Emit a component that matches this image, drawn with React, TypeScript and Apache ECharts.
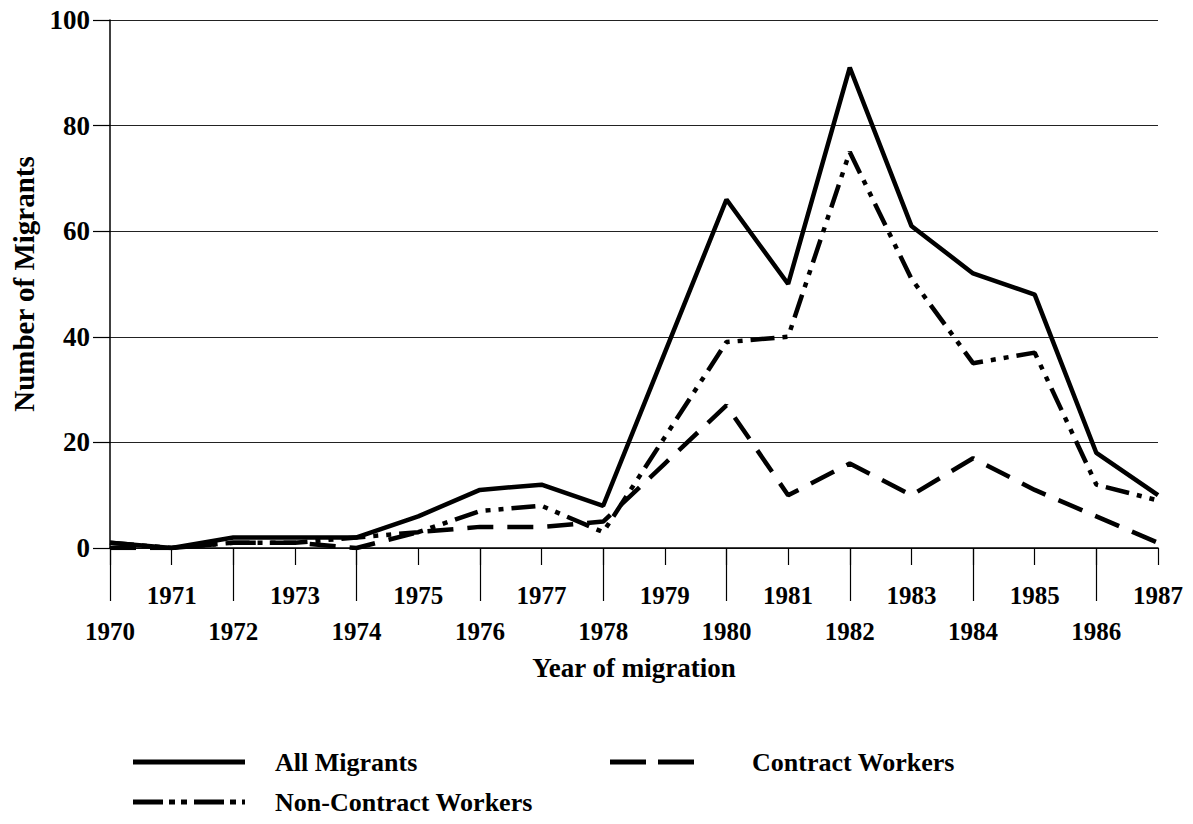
import React, { useEffect, useRef } from "react";
import * as echarts from "echarts";

const years = ["1970","1971","1972","1973","1974","1975","1976","1977","1978","1979","1980","1981","1982","1983","1984","1985","1986","1987"];
const allMigrants = [1, 0, 2, 2, 2, 6, 11, 12, 8, 37, 66, 50, 91, 61, 52, 48, 18, 10];
const contractWorkers = [0, 0, 1, 1, 0, 3, 4, 4, 5, 16, 27, 10, 16, 10, 17, 11, 6, 1];
const nonContractWorkers = [1, 0, 1, 1, 2, 3, 7, 8, 3, 21, 39, 40, 75, 51, 35, 37, 12, 9];

const FONT = "'Liberation Serif', 'Times New Roman', serif";
const textBase = { fontFamily: FONT, fontWeight: "bold" as const, color: "#000" };

export default function App() {
  const ref = useRef<HTMLDivElement>(null);
  useEffect(() => {
    if (!ref.current) return;
    const chart = echarts.init(ref.current, null, { renderer: "svg" });
    chart.setOption({
      animation: false,
      backgroundColor: "#fff",
      grid: { left: 110, right: 35, top: 20, bottom: 276, containLabel: false },
      xAxis: [
        {
          type: "category",
          data: years,
          boundaryGap: false,
          position: "bottom",
          axisLine: { show: true, lineStyle: { color: "#000", width: 1.5 } },
          axisTick: { show: true, interval: 0, length: 17, lineStyle: { color: "#000", width: 1.2 } },
          axisLabel: { ...textBase, fontSize: 25, interval: (i: number) => i % 2 === 1, margin: 35 },
          splitLine: { show: false },
        },
        {
          type: "category",
          data: years,
          boundaryGap: false,
          position: "bottom",
          axisLine: { show: false },
          axisTick: { show: true, interval: (i: number) => i % 2 === 0, length: 53, lineStyle: { color: "#000", width: 1.2 } },
          axisLabel: { ...textBase, fontSize: 25, interval: (i: number) => i % 2 === 0, margin: 71 },
          splitLine: { show: false },
          name: "Year of migration",
          nameLocation: "middle",
          nameGap: 106,
          nameTextStyle: { ...textBase, fontSize: 27 },
        },
      ],
      yAxis: {
        type: "value",
        min: 0,
        max: 100,
        interval: 20,
        axisLine: { show: true, lineStyle: { color: "#000", width: 1.5 } },
        axisTick: { show: true, length: 17, lineStyle: { color: "#000", width: 1.2 } },
        axisLabel: { ...textBase, fontSize: 27, margin: 20 },
        splitLine: { show: true, lineStyle: { color: "#222", width: 1.2 } },
        name: "Number of Migrants",
        nameLocation: "middle",
        nameGap: 70,
        nameTextStyle: { ...textBase, fontSize: 29 },
      },
      series: [
        {
          name: "All Migrants",
          type: "line",
          data: allMigrants,
          showSymbol: false,
          lineStyle: { color: "#000", width: 4.5, type: "solid" },
          z: 3,
        },
        {
          name: "Contract Workers",
          type: "line",
          data: contractWorkers,
          showSymbol: false,
          lineStyle: { color: "#000", width: 4.5, type: [26, 14] },
          z: 2,
        },
        {
          name: "Non-Contract Workers",
          type: "line",
          data: nonContractWorkers,
          showSymbol: false,
          lineStyle: { color: "#000", width: 4.5, type: [24, 8, 5, 8, 5, 8] },
          z: 2,
        },
      ],
      graphic: [
        { type: "line", shape: { x1: 133, y1: 762, x2: 245, y2: 762 }, style: { stroke: "#000", lineWidth: 5 } },
        { type: "text", left: 275, top: 749, style: { text: "All Migrants", font: `bold 26px ${FONT}`, fill: "#000" } },
        { type: "line", shape: { x1: 610, y1: 762, x2: 705, y2: 762 }, style: { stroke: "#000", lineWidth: 5, lineDash: [36, 12] } },
        { type: "text", left: 752, top: 749, style: { text: "Contract Workers", font: `bold 26px ${FONT}`, fill: "#000" } },
        { type: "line", shape: { x1: 133, y1: 802, x2: 245, y2: 802 }, style: { stroke: "#000", lineWidth: 5, lineDash: [30, 6, 6, 6, 6, 7] } },
        { type: "text", left: 275, top: 789, style: { text: "Non-Contract Workers", font: `bold 26px ${FONT}`, fill: "#000" } },
      ],
    });
    return () => chart.dispose();
  }, []);
  return <div ref={ref} style={{ position: "fixed", left: 0, top: 0, width: 1193, height: 824 }} />;
}
